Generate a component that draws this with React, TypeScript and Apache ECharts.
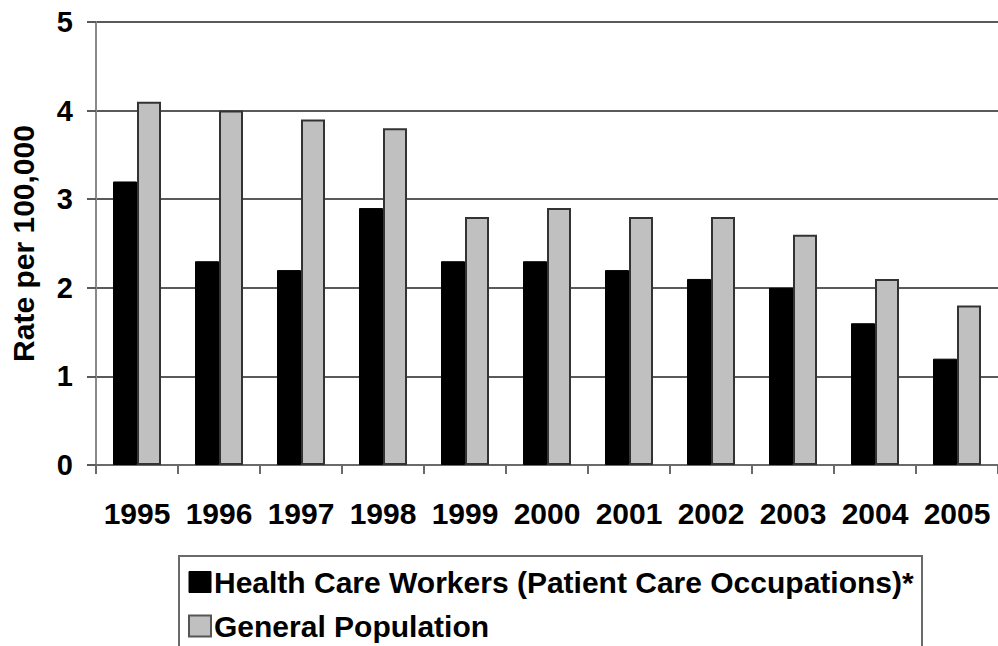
import React, { useEffect, useRef } from "react";
import * as echarts from "echarts";

const years = ["1995", "1996", "1997", "1998", "1999", "2000", "2001", "2002", "2003", "2004", "2005"];
const healthCareWorkers = [3.2, 2.3, 2.2, 2.9, 2.3, 2.3, 2.2, 2.1, 2.0, 1.6, 1.2];
const generalPopulation = [4.1, 4.0, 3.9, 3.8, 2.8, 2.9, 2.8, 2.8, 2.6, 2.1, 1.8];
const seriesNames = ["Health Care Workers (Patient Care Occupations)*", "General Population"];
const yAxisTitle = "Rate per 100,000";

const FONT = "'Liberation Sans', Arial, Helvetica, sans-serif";

export default function App() {
  const ref = useRef<HTMLDivElement>(null);
  useEffect(() => {
    if (!ref.current) return;
    const chart = echarts.init(ref.current, undefined, { renderer: "svg" });
    chart.setOption({
      animation: false,
      backgroundColor: "#ffffff",
      textStyle: { fontFamily: FONT },
      grid: { left: 95, top: 22, width: 913, height: 443, containLabel: false },
      xAxis: {
        type: "category",
        data: years,
        axisLine: { show: true, lineStyle: { color: "#6a6a6a", width: 2 } },
        axisTick: { show: true, length: 9, lineStyle: { color: "#6a6a6a", width: 2 } },
        axisLabel: {
          color: "#000",
          fontWeight: "bold",
          fontSize: 30,
          fontFamily: FONT,
          margin: 33,
          interval: 0,
        },
        splitLine: { show: false },
      },
      yAxis: {
        type: "value",
        min: 0,
        max: 5,
        interval: 1,
        name: yAxisTitle,
        nameLocation: "middle",
        nameGap: 58,
        nameRotate: 90,
        nameTextStyle: { color: "#000", fontWeight: "bold", fontSize: 30, fontFamily: FONT },
        axisLine: { show: true, lineStyle: { color: "#8a8a8a", width: 2 } },
        axisTick: { show: true, length: 9, lineStyle: { color: "#5a5a5a", width: 2 } },
        axisLabel: { color: "#000", fontWeight: "bold", fontSize: 29, fontFamily: FONT, margin: 23 },
        splitLine: { show: true, lineStyle: { color: "#5a5a5a", width: 2 } },
      },
      legend: {
        orient: "vertical",
        left: 188,
        top: 567,
        itemWidth: 22,
        itemHeight: 21,
        itemGap: 14,
        padding: 0,
        textStyle: { color: "#000", fontWeight: "bold", fontSize: 30, fontFamily: FONT, padding: [0, 0, 0, -2] },
        data: [
          { name: seriesNames[0], icon: "rect", itemStyle: { color: "#000", borderColor: "#000", borderWidth: 1 } },
          { name: seriesNames[1], icon: "rect", itemStyle: { color: "#c0c0c0", borderColor: "#555", borderWidth: 2 } },
        ],
      },
      graphic: [
        {
          type: "rect",
          shape: { x: 179, y: 556, width: 743, height: 130 },
          style: { fill: "none", stroke: "#6a6a6a", lineWidth: 2 },
          z: 10,
        },
      ],
      series: [
        {
          name: seriesNames[0],
          type: "bar",
          data: healthCareWorkers,
          barWidth: 24,
          barGap: "0%",
          itemStyle: { color: "#000", borderColor: "#000", borderWidth: 1 },
        },
        {
          name: seriesNames[1],
          type: "bar",
          data: generalPopulation,
          barWidth: 24,
          barGap: "0%",
          itemStyle: { color: "#c0c0c0", borderColor: "#333", borderWidth: 2 },
        },
      ],
    });
    return () => chart.dispose();
  }, []);
  return (
    <div
      ref={ref}
      style={{ position: "fixed", left: 0, top: 0, width: 998, height: 646, background: "#fff" }}
    />
  );
}
